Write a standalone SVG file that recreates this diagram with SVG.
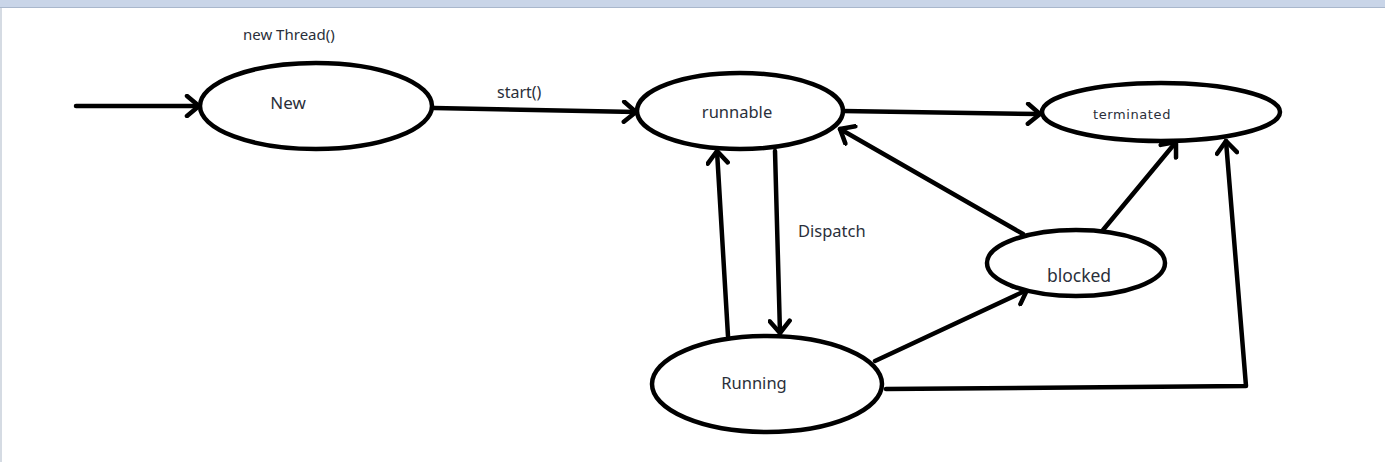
<svg xmlns="http://www.w3.org/2000/svg" width="1385" height="462" viewBox="0 0 1385 462">
  <defs>
    <style>
      .state { fill: #ffffff; stroke: #000000; stroke-width: 4.5; }
      .edge { fill: none; stroke: #000000; stroke-width: 4.5; stroke-linecap: round; stroke-linejoin: round; marker-end: url(#chev); }
      .lbl { font-family: "Noto Sans", "Open Sans", "DejaVu Sans", sans-serif; fill: #2a2f3a; }
    </style>
    <marker id="chev" viewBox="-16 -12 20 24" markerWidth="20" markerHeight="24" refX="0" refY="0" orient="auto" markerUnits="userSpaceOnUse">
      <path d="M -12 -10 L 0 0 L -12 10" fill="none" stroke="#000000" stroke-width="4.5" stroke-linecap="round" stroke-linejoin="round"/>
    </marker>
  </defs>

  <!-- window frame -->
  <rect x="0" y="0" width="1385" height="462" fill="#ffffff"/>
  <rect x="0" y="0" width="1385" height="7" fill="#c9d5e8"/>
  <line x1="0" y1="7.5" x2="1385" y2="7.5" stroke="#a9b7cc" stroke-width="1"/>
  <line x1="1" y1="8" x2="1" y2="462" stroke="#d5dbe3" stroke-width="2"/>

  <!-- transitions -->
  <g id="connectors">
    <line class="edge" x1="76" y1="106" x2="199" y2="106"/>
    <line class="edge" x1="434" y1="108" x2="636" y2="112"/>
    <line class="edge" x1="843" y1="111" x2="1040" y2="114"/>
    <line class="edge" x1="728" y1="336" x2="717" y2="151"/>
    <line class="edge" x1="775" y1="151" x2="780" y2="333"/>
    <line class="edge" x1="1023" y1="234" x2="840" y2="129"/>
    <line class="edge" x1="1103" y1="230" x2="1176" y2="142"/>
    <line class="edge" x1="875" y1="361" x2="1027" y2="290"/>
    <polyline class="edge" points="886,389 1246,386 1226,141"/>
  </g>

  <text class="lbl" x="243" y="40" font-size="15">new Thread()</text>
  <text class="lbl" x="497" y="98" font-size="16">start()</text>
  <text class="lbl" x="798" y="237" font-size="16.5">Dispatch</text>

  <g id="node-new">
    <ellipse class="state" cx="316" cy="106" rx="116" ry="43"/>
    <text class="lbl" x="288" y="109" font-size="17" text-anchor="middle">New</text>
  </g>

  <g id="node-runnable">
    <ellipse class="state" cx="740" cy="111" rx="103" ry="38"/>
    <text class="lbl" x="737" y="118" font-size="16.5" text-anchor="middle">runnable</text>
  </g>

  <g id="node-terminated">
    <ellipse class="state" cx="1161" cy="112" rx="119" ry="29"/>
    <text x="1132" y="119" font-size="13" letter-spacing="0.6" text-anchor="middle" font-family="'DejaVu Sans', Verdana, sans-serif" fill="#2a2f3a">terminated</text>
  </g>

  <g id="node-blocked">
    <ellipse class="state" cx="1076" cy="263" rx="89" ry="33"/>
    <text class="lbl" x="1079" y="282" font-size="17.5" text-anchor="middle">blocked</text>
  </g>

  <g id="node-running">
    <ellipse class="state" cx="767" cy="384" rx="115" ry="48"/>
    <text class="lbl" x="754" y="389" font-size="16.5" text-anchor="middle">Running</text>
  </g>
</svg>
